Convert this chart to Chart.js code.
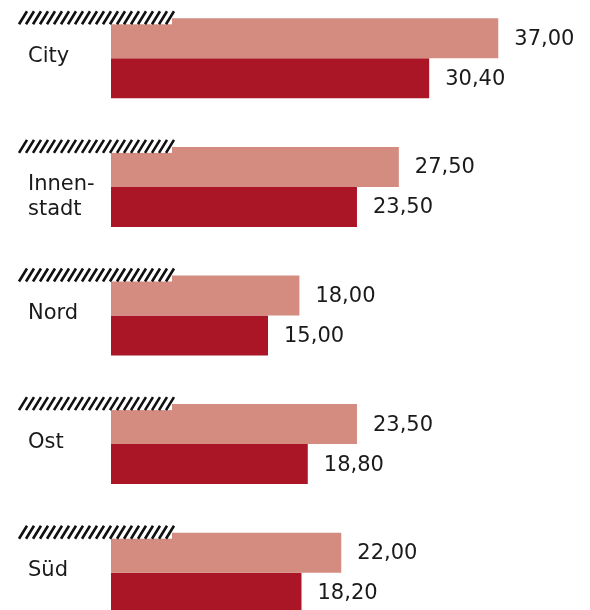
<!DOCTYPE html>
<html>
<head>
<meta charset="utf-8">
<script src="https://cdn.jsdelivr.net/npm/chart.js@4"></script>
<style>
  html, body { margin: 0; padding: 0; background: #fff; overflow: hidden; }
  #wrap { position: absolute; left: 0; top: -6px; width: 590px; height: 643px; }
</style>
</head>
<body>
<div id="wrap"><canvas id="myChart" width="590" height="643"></canvas></div>
<script>
// data
const categories = ["City", ["Innen-", "stadt"], "Nord", "Ost", "Süd"];
const seriesLight = [37.0, 27.5, 18.0, 23.5, 22.0];
const seriesDark = [30.4, 23.5, 15.0, 18.8, 18.2];

const lightColor = "#d48b80";
const darkColor = "#aa1626";
const fontFamily = "'DejaVu Sans', sans-serif";

// value labels right of each bar
const valueLabels = {
  id: "valueLabels",
  afterDatasetsDraw(chart) {
    const ctx = chart.ctx;
    ctx.save();
    ctx.font = "21px " + fontFamily;
    ctx.fillStyle = "#1a1a1a";
    ctx.textAlign = "left";
    ctx.textBaseline = "middle";
    chart.data.datasets.forEach((ds, i) => {
      chart.getDatasetMeta(i).data.forEach((bar, j) => {
        const txt = ds.data[j].toFixed(2).replace(".", ",");
        ctx.fillText(txt, bar.x + 16, bar.y + 1);
      });
    });
    ctx.restore();
  }
};

// category names on the left, first line sits on the group centre
const categoryLabels = {
  id: "categoryLabels",
  afterDatasetsDraw(chart) {
    const ctx = chart.ctx;
    const yScale = chart.scales.y;
    ctx.save();
    ctx.font = "21px " + fontFamily;
    ctx.fillStyle = "#1a1a1a";
    ctx.textAlign = "left";
    ctx.textBaseline = "middle";
    categories.forEach((c, i) => {
      const cy = yScale.getPixelForValue(i);
      const lines = Array.isArray(c) ? c : [c];
      lines.forEach((line, k) => {
        ctx.fillText(line, 28, cy - 2 + k * 25);
      });
    });
    ctx.restore();
  }
};

// hatched band above each group
const hatchBands = {
  id: "hatchBands",
  afterDatasetsDraw(chart) {
    const ctx = chart.ctx;
    const yScale = chart.scales.y;
    ctx.save();
    categories.forEach((c, i) => {
      const cy = yScale.getPixelForValue(i);
      const top = cy - 47;
      const bottom = cy - 34;
      ctx.fillStyle = "#fff";
      ctx.fillRect(18, top, 154, bottom - top);
      ctx.strokeStyle = "#111";
      ctx.lineWidth = 2.6;
      ctx.beginPath();
      for (let x = 19; x < 172; x += 7) {
        ctx.moveTo(x, bottom);
        ctx.lineTo(x + 8, top);
      }
      ctx.stroke();
    });
    ctx.restore();
  }
};

const ctx = document.getElementById("myChart").getContext("2d");
const myChart = new Chart(ctx, {
  type: "bar",
  data: {
    labels: categories,
    datasets: [
      {
        data: seriesLight,
        backgroundColor: lightColor,
        categoryPercentage: 0.622,
        barPercentage: 1.0
      },
      {
        data: seriesDark,
        backgroundColor: darkColor,
        categoryPercentage: 0.622,
        barPercentage: 1.0
      }
    ]
  },
  options: {
    indexAxis: "y",
    responsive: false,
    animation: false,
    layout: { padding: { left: 111, right: 8, top: 0, bottom: 0 } },
    plugins: {
      legend: { display: false },
      tooltip: { enabled: false }
    },
    scales: {
      x: {
        display: false,
        min: 0,
        max: 45
      },
      y: {
        display: false
      }
    }
  },
  plugins: [valueLabels, categoryLabels, hatchBands]
});
</script>
</body>
</html>
